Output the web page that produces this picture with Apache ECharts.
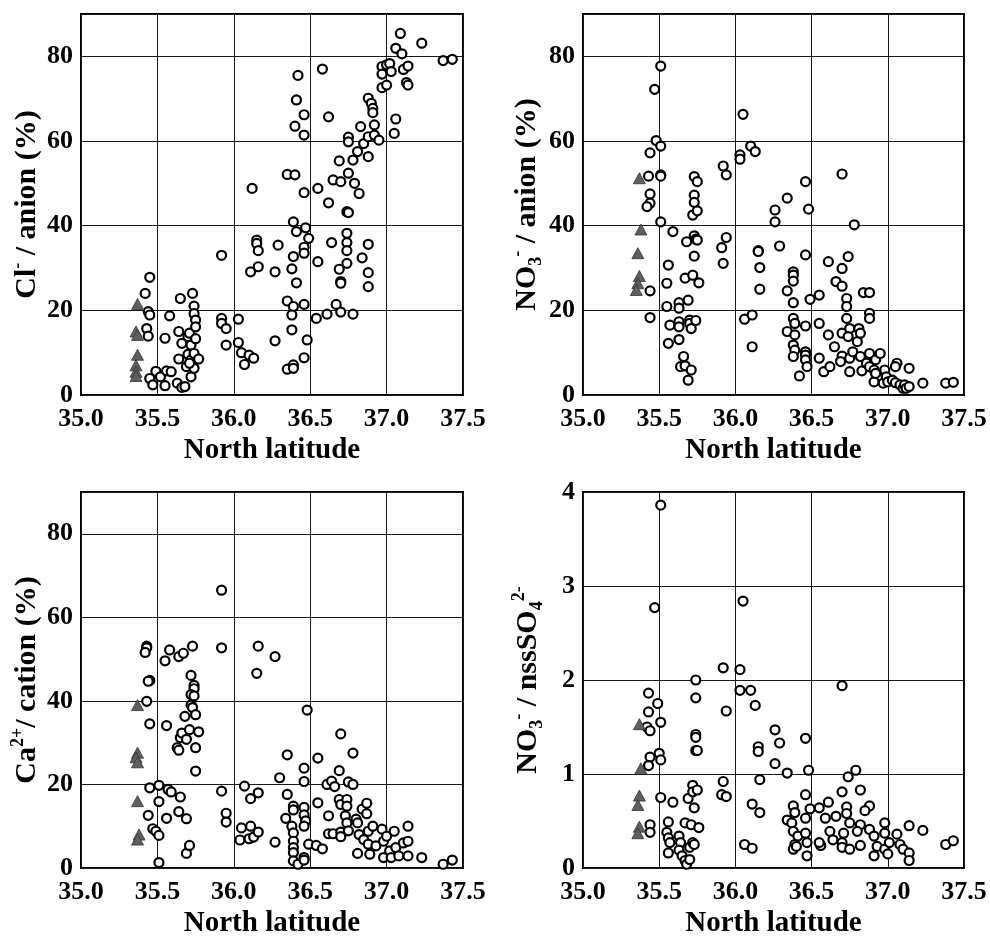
<!DOCTYPE html>
<html>
<head>
<meta charset="utf-8">
<script src="https://cdn.jsdelivr.net/npm/echarts@6/dist/echarts.min.js"></script>
<style>
html,body{margin:0;padding:0;background:#fff;}
#chart{width:990px;height:939px;}
</style>
</head>
<body>
<div id="chart"></div>
<script>
// ---------- data ----------
const xTicks = [35.0, 35.5, 36.0, 36.5, 37.0, 37.5];

// Panel 1: Cl- / anion (%)
const clCircles = [
[35.45,27.8],[35.42,24.0],[35.44,19.7],[35.45,18.9],[35.43,15.7],[35.44,13.9],[35.45,3.9],[35.47,2.4],[35.49,5.6],[35.52,4.3],[35.55,2.2],[35.56,5.7],[35.55,13.4],[35.58,18.7],[35.59,5.5],[35.63,2.8],[35.64,8.5],[35.64,15.0],[35.65,22.8],[35.66,12.2],[35.66,1.8],[35.68,2.0],[35.69,6.7],[35.70,9.6],[35.70,13.8],[35.71,14.6],[35.72,4.3],[35.72,8.3],[35.72,11.8],[35.73,24.0],[35.74,21.0],[35.74,19.2],[35.75,17.7],[35.75,16.1],[35.75,13.3],[35.74,9.8],[35.74,6.3],[35.77,8.5],[35.71,7.5],
[35.92,33.0],[35.92,18.1],[35.92,16.9],[35.95,15.7],[35.95,11.8],[36.03,17.9],[36.03,12.4],[36.05,10.0],[36.07,7.2],[36.10,9.4],[36.13,8.7],[36.11,29.1],[36.12,48.8],[36.15,36.6],[36.15,35.8],[36.16,34.1],[36.16,30.3],[36.27,12.8],[36.27,29.1],[36.29,35.4],
[36.35,52.1],[36.40,52.0],[36.42,75.5],[36.41,69.7],[36.40,63.5],[36.46,66.2],[36.46,61.4],[36.46,47.8],[36.39,40.9],[36.41,38.6],[36.47,39.5],[36.49,37.0],[36.46,34.9],[36.46,33.5],[36.39,32.7],[36.38,29.8],[36.41,26.5],[36.35,22.2],[36.39,20.9],[36.38,18.9],[36.46,21.4],[36.38,15.4],[36.48,13.0],[36.46,8.8],[36.35,6.1],[36.39,7.1],[36.39,6.3],
[36.58,77.0],[36.62,65.7],[36.55,48.8],[36.62,45.4],[36.65,50.8],[36.69,55.3],[36.70,50.4],[36.75,52.4],[36.78,55.5],[36.79,50.0],[36.81,57.5],[36.82,47.6],[36.85,59.4],[36.75,60.9],[36.75,59.8],[36.83,63.4],[36.88,56.3],[36.88,70.1],[36.90,68.9],[36.91,67.7],[36.91,66.7],[36.92,63.8],[36.88,61.0],[36.92,61.4],[36.95,60.2],[36.74,43.3],[36.75,43.1],[36.64,36.0],[36.74,38.2],[36.74,36.0],[36.74,34.1],[36.74,31.1],[36.69,29.7],[36.70,26.8],[36.70,26.4],[36.84,32.4],[36.88,35.6],[36.88,28.9],[36.88,25.6],[36.55,31.5],[36.54,18.1],[36.61,19.1],[36.67,21.4],[36.70,19.6],[36.78,19.1],
[36.97,77.6],[37.00,78.0],[37.02,78.3],[36.97,75.8],[37.03,76.4],[36.97,72.6],[37.00,73.2],[37.06,81.9],[37.09,85.4],[37.10,80.6],[37.11,76.9],[37.14,77.7],[37.13,73.8],[37.14,73.2],[37.06,65.2],[37.05,61.8],[37.23,83.1],[37.37,79.0],[37.43,79.3]
];
const clTriangles = [[35.37,21.5],[35.36,15.0],[35.37,14.2],[35.37,9.5],[35.36,7.0],[35.36,5.5],[35.36,4.5]];

// Panel 2: NO3- / anion (%)
const no3Circles = [
[35.51,77.7],[35.47,72.2],[35.48,60.1],[35.51,58.8],[35.44,57.2],[35.43,51.7],[35.51,52.0],[35.51,51.7],[35.44,47.5],[35.44,45.3],[35.42,44.5],[35.51,40.9],[35.44,24.6],[35.44,18.3],
[35.59,38.6],[35.56,30.7],[35.55,26.4],[35.55,20.9],[35.57,16.5],[35.56,12.2],[35.63,21.8],[35.63,20.5],[35.63,17.3],[35.63,16.1],[35.63,13.1],[35.69,22.4],[35.70,17.7],[35.70,16.9],[35.71,15.7],[35.74,17.6],[35.66,9.1],[35.64,6.7],[35.67,6.9],[35.71,5.9],[35.69,3.5],[35.67,27.6],[35.72,28.3],[35.73,32.8],[35.76,26.5],[35.68,36.2],[35.72,42.5],[35.73,47.2],[35.73,45.5],[35.73,51.6],[35.75,50.4],[35.75,43.5],[35.73,37.6],[35.74,36.8],[35.75,36.6],
[35.92,54.1],[35.94,52.0],[35.91,34.8],[35.94,37.2],[35.92,31.1],[36.05,66.3],[36.03,56.7],[36.03,55.7],[36.10,58.8],[36.13,57.5],[36.15,34.1],[36.15,33.9],[36.16,30.1],[36.16,25.0],[36.06,17.9],[36.11,18.9],[36.11,11.4],
[36.26,43.7],[36.26,40.9],[36.29,35.2],[36.34,46.5],[36.46,50.4],[36.48,43.9],[36.46,33.1],[36.49,22.6],[36.38,29.1],[36.38,28.3],[36.38,26.9],[36.34,24.6],[36.38,21.8],[36.38,18.1],[36.39,16.9],[36.46,16.3],[36.34,15.0],[36.39,14.2],[36.38,11.8],[36.39,10.6],[36.38,9.1],[36.46,10.2],[36.46,9.4],[36.46,8.3],[36.47,6.7],[36.42,4.5],
[36.55,16.9],[36.55,23.6],[36.61,31.5],[36.55,8.7],[36.58,5.5],[36.62,6.7],[36.61,14.2],[36.65,11.4],[36.66,26.8],[36.70,52.2],[36.78,40.2],[36.74,32.7],[36.70,29.9],[36.70,25.7],[36.73,22.8],[36.73,20.9],[36.73,18.1],[36.70,14.6],[36.75,15.7],[36.74,13.8],[36.80,12.6],[36.70,9.2],[36.69,7.9],[36.75,8.7],[36.77,10.2],[36.75,5.5],[36.81,15.7],[36.82,14.6],[36.82,9.1],[36.84,24.2],[36.88,24.2],[36.88,19.3],[36.88,18.1],[36.88,9.8],[36.83,5.7],[36.86,7.5],[36.88,6.7],[36.91,5.9],[36.91,3.1],[36.92,8.3],[36.95,9.8],[36.92,5.1],
[36.98,5.9],[36.97,2.8],[36.99,4.3],[37.00,3.1],[37.03,3.5],[37.05,2.9],[37.06,7.5],[37.05,6.7],[37.08,2.4],[37.10,1.6],[37.11,2.4],[37.12,1.6],[37.14,2.0],[37.14,6.3],[37.23,2.8],[37.38,2.8],[37.43,3.0]
];
const no3Triangles = [[35.37,51.2],[35.38,39.1],[35.36,33.5],[35.37,28.1],[35.36,26.4],[35.35,24.8]];

// Panel 3: Ca2+ / cation (%)
const caCircles = [
[35.43,53.1],[35.43,52.7],[35.42,51.6],[35.45,44.9],[35.44,44.7],[35.43,39.9],[35.45,34.5],[35.45,19.2],[35.44,12.6],[35.47,9.4],[35.49,8.8],[35.51,7.8],[35.51,19.8],[35.51,15.9],[35.51,1.3],[35.56,11.9],[35.57,18.8],[35.59,18.2],[35.65,17.0],[35.64,13.5],[35.69,11.8],[35.69,3.5],[35.71,5.4],
[35.55,49.6],[35.58,52.2],[35.64,50.6],[35.67,51.4],[35.73,53.1],[35.56,34.1],[35.63,28.8],[35.64,28.2],[35.65,31.2],[35.66,32.3],[35.68,36.3],[35.69,30.8],[35.72,46.1],[35.74,43.7],[35.74,42.9],[35.72,41.5],[35.74,41.2],[35.72,39.0],[35.73,38.4],[35.75,36.7],[35.71,33.1],[35.77,32.6],[35.75,28.8],[35.75,23.2],
[35.92,66.5],[35.92,52.7],[35.92,18.4],[35.95,13.1],[35.95,11.0],[36.07,19.6],[36.04,6.7],[36.05,9.6],[36.10,7.0],[36.11,10.0],[36.11,16.6],[36.13,7.4],[36.16,8.6],[36.16,18.0],[36.16,53.1],[36.15,46.6],[36.27,50.6],[36.27,6.2],[36.30,21.6],
[36.35,27.1],[36.35,17.6],[36.34,11.9],[36.39,14.8],[36.39,13.9],[36.38,10.0],[36.39,8.4],[36.39,6.4],[36.39,4.9],[36.39,3.7],[36.39,1.7],[36.42,0.9],[36.46,23.9],[36.46,20.7],[36.46,14.5],[36.46,12.7],[36.47,11.3],[36.46,10.0],[36.46,2.5],[36.46,1.9],[36.48,37.8],[36.49,5.7],
[36.55,26.3],[36.55,15.6],[36.54,5.4],[36.58,4.6],[36.61,20.0],[36.62,12.5],[36.62,8.2],[36.65,8.2],[36.64,20.8],[36.66,19.5],[36.70,32.1],[36.69,23.3],[36.69,16.4],[36.70,15.2],[36.74,16.4],[36.74,14.8],[36.73,12.5],[36.74,10.8],[36.70,8.6],[36.70,7.5],[36.75,8.9],[36.75,20.6],[36.78,20.0],[36.78,27.5],[36.80,11.7],[36.81,10.8],[36.82,8.0],[36.81,3.5],[36.84,14.1],[36.85,6.8],[36.87,15.5],[36.87,13.0],[36.88,8.8],[36.88,5.7],[36.89,3.3],[36.91,10.0],[36.93,5.3],
[36.97,9.3],[36.98,6.4],[36.98,2.5],[37.00,7.6],[37.02,4.1],[37.03,2.5],[37.05,8.8],[37.06,4.9],[37.08,2.9],[37.11,6.0],[37.14,10.0],[37.14,6.4],[37.14,2.9],[37.23,2.5],[37.37,0.9],[37.43,1.9]
];
const caTriangles = [[35.37,39.0],[35.37,27.6],[35.36,26.5],[35.37,25.3],[35.37,16.0],[35.38,8.0],[35.37,6.8]];

// Panel 4: NO3- / nssSO4 2-
const ratioCircles = [
[35.51,3.86],[35.47,2.77],[35.43,1.86],[35.43,1.66],[35.49,1.75],[35.51,1.55],[35.42,1.50],[35.44,1.46],[35.44,1.18],[35.43,1.09],[35.50,1.22],[35.51,1.15],[35.51,0.75],[35.44,0.46],[35.44,0.38],
[35.59,0.70],[35.56,0.49],[35.55,0.38],[35.56,0.32],[35.57,0.27],[35.56,0.16],[35.63,0.34],[35.64,0.27],[35.63,0.19],[35.65,0.13],[35.67,0.08],[35.68,0.04],[35.70,0.09],[35.70,0.22],[35.72,0.27],[35.73,0.25],[35.67,0.48],[35.71,0.46],[35.76,0.43],[35.69,0.74],[35.72,0.88],[35.72,0.81],[35.75,0.83],[35.73,0.64],[35.74,2.00],[35.74,1.81],[35.74,1.42],[35.74,1.39],[35.74,1.25],[35.75,1.25],
[35.92,2.13],[35.94,1.67],[35.92,0.92],[35.91,0.78],[35.94,0.76],[36.03,2.11],[36.05,2.84],[36.03,1.89],[36.10,1.89],[36.13,1.73],[36.15,1.29],[36.15,1.24],[36.16,0.94],[36.11,0.68],[36.16,0.59],[36.06,0.25],[36.11,0.21],
[36.26,1.47],[36.29,1.33],[36.26,1.11],[36.34,1.01],[36.46,1.38],[36.48,1.04],[36.46,0.78],[36.38,0.66],[36.39,0.59],[36.34,0.51],[36.37,0.48],[36.38,0.39],[36.39,0.25],[36.38,0.20],[36.40,0.23],[36.41,0.34],[36.46,0.53],[36.46,0.37],[36.47,0.27],[36.47,0.13],[36.49,0.63],
[36.55,0.64],[36.59,0.53],[36.61,0.70],[36.56,0.24],[36.55,0.27],[36.62,0.39],[36.64,0.30],[36.66,0.55],[36.70,0.81],[36.70,1.94],[36.74,0.97],[36.79,1.04],[36.82,0.83],[36.88,0.66],[36.85,0.61],[36.73,0.65],[36.73,0.58],[36.75,0.48],[36.82,0.46],[36.80,0.39],[36.71,0.37],[36.70,0.27],[36.70,0.22],[36.75,0.20],[36.82,0.24],[36.88,0.41],[36.91,0.34],[36.91,0.13],[36.93,0.23],
[36.98,0.48],[36.98,0.37],[36.98,0.20],[37.01,0.27],[37.00,0.15],[37.06,0.36],[37.08,0.25],[37.10,0.20],[37.14,0.45],[37.14,0.16],[37.14,0.08],[37.23,0.40],[37.38,0.25],[37.43,0.29]
];
const ratioTriangles = [[35.37,1.53],[35.38,1.06],[35.37,0.77],[35.36,0.67],[35.37,0.44],[35.36,0.37]];

const yTicksPct = [0, 20, 40, 60, 80];
const yTicksRatio = [0, 1, 2, 3, 4];

// ---------- chart ----------
const F = 'Liberation Serif';
const rich = {
  b:   {fontSize: 30, fontWeight: 'bold', fontFamily: F, color: '#000', lineHeight: 36},
  sup: {fontSize: 18, fontWeight: 'bold', fontFamily: F, color: '#000', lineHeight: 18, verticalAlign: 'top'},
  sub: {fontSize: 18, fontWeight: 'bold', fontFamily: F, color: '#000', lineHeight: 18, verticalAlign: 'bottom'}
};
const yNames = [
  '{b|Cl}{sup|-}{b| / anion (%)}',
  '{b|NO}{sub|3}{sup|-}{b| / anion (%)}',
  '{b|Ca}{sup|2+}{b|/ cation (%)}',
  '{b|NO}{sub|3}{sup|-}{b| / nssSO}{sub|4}{sup|2-}'
];
const grids = [
  {left: 81, top: 14, width: 382, height: 381},
  {left: 583, top: 14, width: 381, height: 381},
  {left: 81, top: 492, width: 382, height: 380},
  {left: 583, top: 492, width: 381, height: 380}
];
const yMax = [90, 90, 90, 4];
const yInt = [20, 20, 20, 1];
const yNameGap = [36, 37, 36, 37];

const labelStyle = {fontSize: 26, fontWeight: 'bold', fontFamily: F, color: '#000'};
const split = {show: true, lineStyle: {color: '#1a1a1a', width: 1}};

const option = {
  animation: false,
  backgroundColor: '#fff',
  grid: grids.map(g => Object.assign({show: true, borderColor: '#000', borderWidth: 2, backgroundColor: 'transparent'}, g)),
  xAxis: grids.map((g, i) => ({
    type: 'value', gridIndex: i,
    min: xTicks[0], max: xTicks[xTicks.length - 1], interval: xTicks[1] - xTicks[0],
    axisLine: {show: false}, axisTick: {show: false}, splitLine: split,
    axisLabel: Object.assign({margin: 11, formatter: v => v.toFixed(1)}, labelStyle),
    name: 'North latitude', nameLocation: 'middle', nameGap: 41,
    nameTextStyle: {fontSize: 29, fontWeight: 'bold', fontFamily: F, color: '#000'}
  })),
  yAxis: grids.map((g, i) => ({
    type: 'value', gridIndex: i,
    min: 0, max: yMax[i], interval: yInt[i],
    axisLine: {show: false}, axisTick: {show: false}, splitLine: split,
    axisLabel: Object.assign({margin: 8, showMaxLabel: i === 3}, labelStyle),
    name: yNames[i], nameLocation: 'middle', nameRotate: 90, nameGap: yNameGap[i],
    nameTextStyle: {rich: rich}
  })),
  series: []
};

const circleSets = [clCircles, no3Circles, caCircles, ratioCircles];
const triSets = [clTriangles, no3Triangles, caTriangles, ratioTriangles];
circleSets.forEach((d, i) => {
  option.series.push({
    type: 'scatter', xAxisIndex: i, yAxisIndex: i, data: d,
    symbol: 'circle', symbolSize: 9,
    itemStyle: {color: '#fff', borderColor: '#000', borderWidth: 2.2, opacity: 1},
    emphasis: {disabled: true}, silent: true
  });
  option.series.push({
    type: 'scatter', xAxisIndex: i, yAxisIndex: i, data: triSets[i],
    symbol: 'triangle', symbolSize: [12, 11],
    itemStyle: {color: '#5f5f5f', borderColor: '#333', borderWidth: 0.8, opacity: 1},
    emphasis: {disabled: true}, silent: true
  });
});

const chart = echarts.init(document.getElementById('chart'), null, {renderer: 'canvas'});
chart.setOption(option);
</script>
</body>
</html>
